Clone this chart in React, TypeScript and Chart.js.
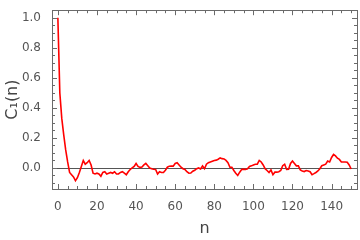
import React, { useEffect, useRef } from "react";
import { Chart, registerables } from "chart.js";

Chart.register(...registerables);

// C1(n) autocorrelation values for n = 0..150
const c1Values: number[] = [
  1.0, 0.5, 0.33, 0.22, 0.12, 0.04, -0.03, -0.045, -0.06, -0.085,
  -0.065, -0.03, 0.01, 0.05, 0.025, 0.035, 0.05, 0.02, -0.035, -0.04,
  -0.035, -0.04, -0.055, -0.03, -0.025, -0.04, -0.035, -0.03, -0.035, -0.025,
  -0.04, -0.04, -0.03, -0.025, -0.035, -0.045, -0.025, -0.01, 0.0, 0.01,
  0.03, 0.01, 0.004, 0.006, 0.02, 0.03, 0.015, 0.0, -0.005, -0.008,
  -0.01, -0.04, -0.025, -0.03, -0.03, -0.015, 0.005, 0.012, 0.013, 0.012,
  0.03, 0.035, 0.02, 0.005, -0.005, -0.01, -0.025, -0.035, -0.034, -0.022,
  -0.015, -0.005, 0.0, -0.006, 0.013, -0.005, 0.025, 0.035, 0.04, 0.045,
  0.05, 0.052, 0.058, 0.067, 0.062, 0.06, 0.05, 0.035, 0.005, 0.005,
  -0.017, -0.035, -0.05, -0.028, -0.01, -0.008, -0.01, -0.005, 0.01, 0.014,
  0.02, 0.025, 0.025, 0.05, 0.04, 0.02, -0.005, -0.017, -0.03, -0.013,
  -0.045, -0.028, -0.028, -0.025, -0.017, 0.015, 0.025, -0.01, -0.008, 0.03,
  0.046, 0.03, 0.014, 0.014, -0.013, -0.02, -0.024, -0.017, -0.02, -0.025,
  -0.045, -0.038, -0.03, -0.02, -0.005, 0.015, 0.02, 0.025, 0.046, 0.04,
  0.07, 0.09, 0.08, 0.065, 0.057, 0.04, 0.04, 0.04, 0.038, 0.02,
  -0.007,
];

const xTickValues: number[] = [0, 20, 40, 60, 80, 100, 120, 140];
const yTickValues: number[] = [0.0, 0.2, 0.4, 0.6, 0.8, 1.0];
const xMinorStep = 5;
const yMinorStep = 0.05;

const xTitle = "n";
const yTitle = "C\u2081(n)";

const FRAME_COLOR = "#6a6a6a";
const LABEL_COLOR = "#555555";
const TITLE_COLOR = "#444444";

const framePlugin = {
  id: "mmaFrame",
  beforeDatasetsDraw(chart: any) {
    const { ctx, chartArea, scales } = chart;
    const y0 = scales.y.getPixelForValue(0);
    ctx.save();
    ctx.strokeStyle = "#555555";
    ctx.lineWidth = 1;
    ctx.beginPath();
    ctx.moveTo(chartArea.left, Math.round(y0) + 0.5);
    ctx.lineTo(chartArea.right, Math.round(y0) + 0.5);
    ctx.stroke();
    ctx.restore();
  },
  afterDraw(chart: any) {
    const { ctx, chartArea, scales } = chart;
    const { left, right, top, bottom } = chartArea;
    const xs = scales.x;
    const ys = scales.y;
    ctx.save();
    ctx.strokeStyle = FRAME_COLOR;
    ctx.lineWidth = 1;
    ctx.strokeRect(Math.round(left) + 0.5, Math.round(top) + 0.5, Math.round(right - left), Math.round(bottom - top));

    ctx.beginPath();
    for (let v = Math.ceil(xs.min / xMinorStep) * xMinorStep; v <= xs.max; v += xMinorStep) {
      const px = Math.round(xs.getPixelForValue(v)) + 0.5;
      const len = v % 20 === 0 ? 5 : 3;
      ctx.moveTo(px, bottom);
      ctx.lineTo(px, bottom - len);
      ctx.moveTo(px, top);
      ctx.lineTo(px, top + len);
    }
    const yStart = Math.ceil(ys.min / yMinorStep - 1e-9);
    const yEnd = Math.floor(ys.max / yMinorStep + 1e-9);
    for (let k = yStart; k <= yEnd; k++) {
      const v = k * yMinorStep;
      const py = Math.round(ys.getPixelForValue(v)) + 0.5;
      const len = k % 4 === 0 ? 5 : 3;
      ctx.moveTo(left, py);
      ctx.lineTo(left + len, py);
      ctx.moveTo(right, py);
      ctx.lineTo(right - len, py);
    }
    ctx.stroke();

    ctx.fillStyle = TITLE_COLOR;
    ctx.font = "16px 'DejaVu Sans'";
    ctx.textAlign = "center";
    ctx.textBaseline = "alphabetic";
    ctx.fillText(xTitle, (left + right) / 2, 233);

    ctx.translate(17, (top + bottom) / 2);
    ctx.rotate(-Math.PI / 2);
    ctx.fillText(yTitle, 0, 0);
    ctx.restore();
  },
};

export default function App() {
  const canvasRef = useRef<HTMLCanvasElement | null>(null);

  useEffect(() => {
    const canvas = canvasRef.current;
    if (!canvas) return;
    const points = c1Values.map((v, i) => ({ x: i, y: v }));
    const chart = new Chart(canvas, {
      type: "line",
      data: {
        datasets: [
          {
            data: points,
            borderColor: "rgb(255,0,0)",
            borderWidth: 1.6,
            pointRadius: 0,
            tension: 0,
            fill: false,
          },
        ],
      },
      options: {
        animation: false,
        responsive: false,
        devicePixelRatio: 1,
        layout: { padding: { top: 2, right: 3, left: 0, bottom: 0 } },
        plugins: {
          legend: { display: false },
          tooltip: { enabled: false },
          title: { display: false },
        },
        scales: {
          x: {
            type: "linear",
            min: -3,
            max: 153,
            grid: { display: false },
            border: { display: false },
            afterBuildTicks: (s: any) => {
              s.ticks = xTickValues.map((v) => ({ value: v }));
            },
            afterFit: (s: any) => {
              s.height = 51;
            },
            ticks: {
              autoSkip: false,
              maxRotation: 0,
              padding: 3,
              color: LABEL_COLOR,
              font: { family: "'DejaVu Sans'", size: 12 },
              callback: (v: any) => String(v),
            },
          },
          y: {
            type: "linear",
            min: -0.14,
            max: 1.05,
            grid: { display: false },
            border: { display: false },
            afterBuildTicks: (s: any) => {
              s.ticks = yTickValues.map((v) => ({ value: v }));
            },
            afterFit: (s: any) => {
              s.width = 52;
            },
            ticks: {
              autoSkip: false,
              padding: 3,
              color: LABEL_COLOR,
              font: { family: "'DejaVu Sans'", size: 12 },
              callback: (v: any) => Number(v).toFixed(1),
            },
          },
        },
      },
      plugins: [framePlugin],
    });
    return () => chart.destroy();
  }, []);

  return (
    <div style={{ position: "absolute", left: 0, top: 0, width: 360, height: 240, background: "#fff" }}>
      <canvas ref={canvasRef} width={360} height={240} style={{ display: "block", width: 360, height: 240 }} />
    </div>
  );
}
